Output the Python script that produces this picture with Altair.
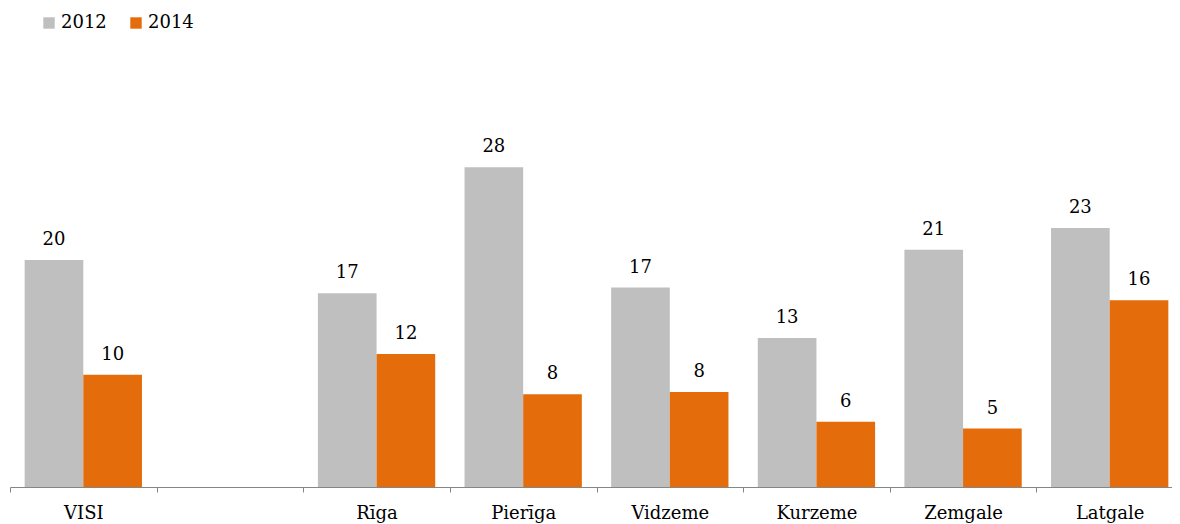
import altair as alt
import pandas as pd

categories = ["VISI", " ", "Rīga", "Pierīga", "Vidzeme", "Kurzeme", "Zemgale", "Latgale"]
regions = ["VISI", "Rīga", "Pierīga", "Vidzeme", "Kurzeme", "Zemgale", "Latgale"]
years = ["2012", "2014"]
values_2012 = [19.8, 16.9, 27.9, 17.4, 13.0, 20.7, 22.6]
values_2014 = [9.8, 11.6, 8.1, 8.3, 5.7, 5.1, 16.3]
colors = ["#BFBFBF", "#E46C0A"]

rows = []
for r, a, b in zip(regions, values_2012, values_2014):
    rows.append({"region": r, "year": "2012", "value": a})
    rows.append({"region": r, "year": "2014", "value": b})
df = pd.DataFrame(rows)

FONT = "DejaVu Serif"

x = alt.X("region:N", scale=alt.Scale(domain=categories, range=[0, 1173], paddingInner=0, paddingOuter=0),
          axis=alt.Axis(title=None, labelAngle=0, tickBand="extent", domainColor="#868686",
                        tickColor="#868686", tickSize=5, labelFont=FONT, labelFontSize=18,
                        labelColor="#000000", labelPadding=12))
xo = alt.XOffset("year:N", scale=alt.Scale(domain=years, paddingInner=0, paddingOuter=0.25))
y = alt.Y("value:Q", scale=alt.Scale(domain=[0, 41.8], nice=False), axis=None)

bars = alt.Chart(df).mark_bar().encode(
    x=x, xOffset=xo, y=y,
    color=alt.Color("year:N", scale=alt.Scale(domain=years, range=colors),
                    legend=alt.Legend(title=None, orient="none", legendX=30, legendY=6,
                                      direction="horizontal", symbolType="square",
                                      symbolSize=130, symbolStrokeWidth=0,
                                      labelFont=FONT, labelFontSize=18, labelColor="#000000",
                                      columnPadding=20, labelOffset=3)),
)

labels = alt.Chart(df).mark_text(baseline="alphabetic", dy=-15, font=FONT, fontSize=18,
                                 color="#000000").encode(
    x=x, xOffset=xo, y=y, text=alt.Text("value:Q", format=".0f"))

chart = alt.layer(bars, labels).properties(
    width=1162, height=479,
    autosize=alt.AutoSizeParams(type="none"),
    padding={"left": 2, "top": 0, "right": 0, "bottom": 37},
).configure_view(stroke=None)

chart.save("out.html", embed_options={"renderer": "svg", "actions": False})
